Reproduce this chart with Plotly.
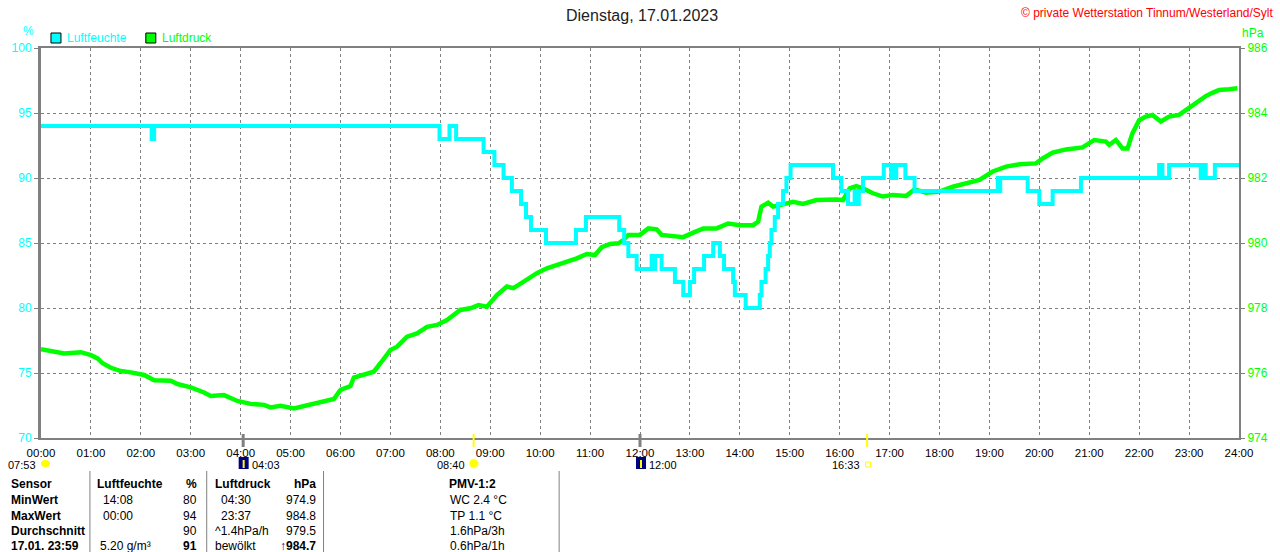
import plotly.graph_objects as go

# Luftfeuchte in %, Minuten seit 00:00 (Treppenkurve, Wert gilt ab Zeitpunkt)
hum_min = [0, 133, 136, 479, 491, 499, 532, 545, 556, 566, 577, 583, 589, 607,
           643, 655, 695, 701, 706, 716, 734, 736, 738, 746, 762, 772, 780, 785,
           797, 808, 816, 821, 832, 834, 847, 864, 866, 871, 874, 876, 878, 882,
           886, 892, 896, 901, 952, 962, 970, 978, 980, 983, 988, 1013, 1022,
           1025, 1026, 1028, 1039, 1050, 1150, 1152, 1153, 1186, 1200, 1216,
           1250, 1344, 1345, 1346, 1348, 1356, 1394, 1398, 1400, 1411, 1440]
hum_val = [94, 93, 94, 93, 94, 93, 92, 91, 90, 89, 88, 87, 86, 85,
           86, 87, 86, 85, 84, 83, 84, 83, 84, 83, 82, 81, 82, 83,
           84, 85, 84, 83, 82, 81, 80, 81, 82, 83, 84, 85, 86, 87,
           88, 89, 90, 91, 90, 89, 88, 89, 88, 89, 90, 91, 90,
           91, 90, 91, 90, 89, 90, 89, 90, 89, 88, 89,
           90, 91, 90, 91, 90, 91, 90, 91, 90, 91, 91]

# Luftdruck in hPa
pres_min = [0, 28, 48, 60, 68, 74, 84, 96, 108, 124, 136, 156, 164, 172, 180,
            196, 204, 220, 228, 236, 252, 268, 276, 288, 304, 316, 328, 340,
            352, 360, 372, 376, 388, 400, 408, 420, 428, 440, 452, 464, 476,
            488, 504, 516, 526, 536, 548, 560, 568, 580, 596, 608, 620, 632,
            644, 656, 666, 674, 684, 694, 700, 706, 720, 730, 740, 746, 760,
            772, 784, 796, 812, 826, 840, 856, 862, 866, 874, 880, 892, 904,
            916, 932, 956, 964, 972, 980, 988, 1000, 1012, 1024, 1040, 1050,
            1064, 1080, 1096, 1112, 1128, 1144, 1160, 1176, 1196, 1204, 1216,
            1232, 1252, 1266, 1280, 1284, 1292, 1300, 1306, 1312, 1320, 1328,
            1336, 1346, 1356, 1368, 1376, 1384, 1392, 1400, 1408, 1416, 1428, 1438]
pres_val = [976.73, 976.60, 976.64, 976.55, 976.45, 976.30, 976.16, 976.06, 976.02,
            975.94, 975.78, 975.76, 975.66, 975.60, 975.56, 975.40, 975.29, 975.32,
            975.22, 975.14, 975.05, 975.02, 974.94, 974.99, 974.91, 974.98, 975.05,
            975.12, 975.20, 975.48, 975.60, 975.86, 975.94, 976.04, 976.30, 976.71,
            976.81, 977.12, 977.22, 977.42, 977.48, 977.63, 977.94, 977.99, 978.09,
            978.04, 978.40, 978.66, 978.61, 978.81, 979.07, 979.22, 979.32, 979.42,
            979.53, 979.66, 979.63, 979.87, 979.97, 979.99, 980.09, 980.25, 980.25,
            980.45, 980.42, 980.25, 980.22, 980.18, 980.32, 980.45, 980.45, 980.60,
            980.55, 980.55, 980.66, 981.12, 981.24, 981.12, 981.19, 981.27, 981.20,
            981.32, 981.34, 981.32, 981.68, 981.75, 981.68, 981.53, 981.43, 981.48,
            981.45, 981.65, 981.55, 981.58, 981.73, 981.84, 981.94, 982.20, 982.35,
            982.42, 982.45, 982.60, 982.78, 982.88, 982.94, 983.17, 983.12, 983.02,
            983.17, 982.91, 982.91, 983.38, 983.78, 983.89, 983.94, 983.74, 983.89,
            983.94, 984.09, 984.25, 984.38, 984.52, 984.62, 984.71, 984.73, 984.76]

hour_ticks = list(range(0, 1441, 60))
hour_labels = ["%02d:00" % (t // 60) for t in hour_ticks]

# Mond-/Sonnenereignisse (Minuten): Mondaufgang, Sonnenaufgang, Monduntergang, Sonnenuntergang
moon_events = [243, 720]
sun_events = [520, 993]

CYAN = "#00FFFF"
GREEN = "#00FF00"
GRAY = "#808080"
FONT = "Liberation Sans, Arial, sans-serif"


def px(x):
    return (x - 40) / 1200


def py(y):
    return (438 - y) / 390


fig = go.Figure()
fig.add_trace(go.Scatter(x=pres_min, y=pres_val, mode="lines", yaxis="y",
                         line=dict(color=GREEN, width=4.5), hoverinfo="skip"))
fig.add_trace(go.Scatter(x=hum_min, y=hum_val, mode="lines", yaxis="y2",
                         line=dict(color=CYAN, width=4, shape="hv"), hoverinfo="skip"))

ann = []


def txt(x, y, s, color="black", size=12, bold=False, anchor="left"):
    if bold:
        s = "<b>" + s + "</b>"
    ann.append(dict(x=px(x), y=py(y), xref="paper", yref="paper", text=s,
                    showarrow=False, xanchor=anchor, yanchor="middle",
                    font=dict(family=FONT, size=size, color=color)))


# Kopf
txt(642, 15, "Dienstag, 17.01.2023", color="#222222", size=16, anchor="center")
txt(1277, 13, "© private Wetterstation Tinnum/Westerland/Sylt", color="red", size=12, anchor="right")
txt(64, 38, "Luftfeuchte", color=CYAN)
txt(159, 38, "Luftdruck", color=GREEN)
txt(27, 31, "%", color=CYAN, anchor="center")
txt(1241, 33, "hPa", color=GREEN)

# Zeile unter der Achse
txt(37, 465, "07:53", size=11, anchor="right")
txt(249, 465, "04:03", size=11)
txt(467, 465, "08:40", size=11, anchor="right")
txt(647, 465, "12:00", size=11)
txt(862, 465, "16:33", size=11, anchor="right")

# Tabelle
rows_y = [484, 500, 515.5, 531, 545.5]
for label, y in zip(["Sensor", "MinWert", "MaxWert", "Durchschnitt", "17.01. 23:59"], rows_y):
    txt(8, y, label, bold=True)
txt(94, rows_y[0], "Luftfeuchte", bold=True)
txt(198, rows_y[0], "%", bold=True, anchor="right")
txt(100, rows_y[1], "14:08")
txt(100, rows_y[2], "00:00")
txt(97, rows_y[4], "5.20 g/m³")
for v, y in zip(["80", "94", "90"], rows_y[1:4]):
    txt(198, y, v, anchor="right")
txt(198, rows_y[4], "91", bold=True, anchor="right")
txt(212, rows_y[0], "Luftdruck", bold=True)
txt(317, rows_y[0], "hPa", bold=True, anchor="right")
txt(218, rows_y[1], "04:30")
txt(218, rows_y[2], "23:37")
txt(212, rows_y[3], "^1.4hPa/h")
txt(212, rows_y[4], "bewölkt")
for v, y in zip(["974.9", "984.8", "979.5"], rows_y[1:4]):
    txt(317, y, v, anchor="right")
txt(317, rows_y[4], "<span style='color:#000080'>↑</span>984.7", bold=True, anchor="right")
txt(472, rows_y[0], "PMV-1:2", bold=True, anchor="center")
for v, y in zip(["WC 2.4 °C", "TP 1.1 °C", "1.6hPa/3h", "0.6hPa/1h"], rows_y[1:]):
    txt(448, y, v)

shapes = []
# Legendenkästchen
for x0, c in [(50, CYAN), (145, GREEN)]:
    shapes.append(dict(type="rect", xref="paper", yref="paper", x0=px(x0), x1=px(x0 + 10),
                       y0=py(43), y1=py(33), fillcolor=c, line=dict(color="black", width=1)))
# Tabellentrenner
for x in [89, 206, 323, 559]:
    shapes.append(dict(type="line", xref="paper", yref="paper", x0=px(x), x1=px(x),
                       y0=py(471), y1=py(560), line=dict(color=GRAY, width=1)))
# Ereignis-Markierungen auf der Zeitachse
for t in moon_events:
    shapes.append(dict(type="line", xref="x", yref="paper", x0=t, x1=t, y0=py(447), y1=py(434),
                       line=dict(color=GRAY, width=3)))
for t in sun_events:
    shapes.append(dict(type="line", xref="x", yref="paper", x0=t, x1=t, y0=py(447), y1=py(434),
                       line=dict(color="#FFFF00", width=2)))
# Symbole
shapes.append(dict(type="circle", xref="paper", yref="paper", x0=px(40), x1=px(49),
                   y0=py(467), y1=py(460), fillcolor="#FFFF00", line=dict(width=0)))
for x0 in [238, 636]:
    shapes.append(dict(type="rect", xref="paper", yref="paper", x0=px(x0), x1=px(x0 + 10),
                       y0=py(469), y1=py(457), fillcolor="#000080", line=dict(width=0)))
    shapes.append(dict(type="line", xref="paper", yref="paper", x0=px(x0 + 5), x1=px(x0 + 5),
                       y0=py(468), y1=py(460), line=dict(color="#FFFF00", width=2)))
shapes.append(dict(type="circle", xref="paper", yref="paper", x0=px(469), x1=px(478),
                   y0=py(468), y1=py(459), fillcolor="#FFFF00", line=dict(color="#FFFF80", width=1)))
shapes.append(dict(type="rect", xref="paper", yref="paper", x0=px(866), x1=px(871),
                   y0=py(467), y1=py(462), fillcolor="white", line=dict(color="#FFFF00", width=1)))

grid = dict(showgrid=True, gridcolor=GRAY, gridwidth=1, griddash="3px,3px")

fig.update_layout(
    width=1280, height=552,
    margin=dict(l=40, r=40, t=48, b=114),
    paper_bgcolor="white", plot_bgcolor="white",
    showlegend=False,
    font=dict(family=FONT, size=12, color="black"),
    xaxis=dict(range=[0, 1440], tickvals=hour_ticks, ticktext=hour_labels,
               showline=True, linecolor=GRAY, linewidth=2, mirror=True,
               ticks="outside", ticklen=3, tickcolor="rgba(0,0,0,0)",
               zeroline=False, tickfont=dict(size=11.5, color="black"), **grid),
    yaxis=dict(range=[974, 986], dtick=2, side="right",
               showline=True, linecolor=GRAY, linewidth=2,
               ticks="outside", ticklen=4, tickcolor=GRAY, zeroline=False,
               tickfont=dict(size=12, color=GREEN), **grid),
    yaxis2=dict(range=[70, 100], dtick=5, side="left", overlaying="y",
                showgrid=False, showline=True, linecolor=GRAY, linewidth=3,
                ticks="outside", ticklen=4, tickcolor=GRAY, zeroline=False,
                tickfont=dict(size=12, color=CYAN)),
    annotations=ann,
    shapes=shapes,
)

fig.write_html("out.html", config={"displayModeBar": False},
               post_script="document.body.style.margin='0';")
